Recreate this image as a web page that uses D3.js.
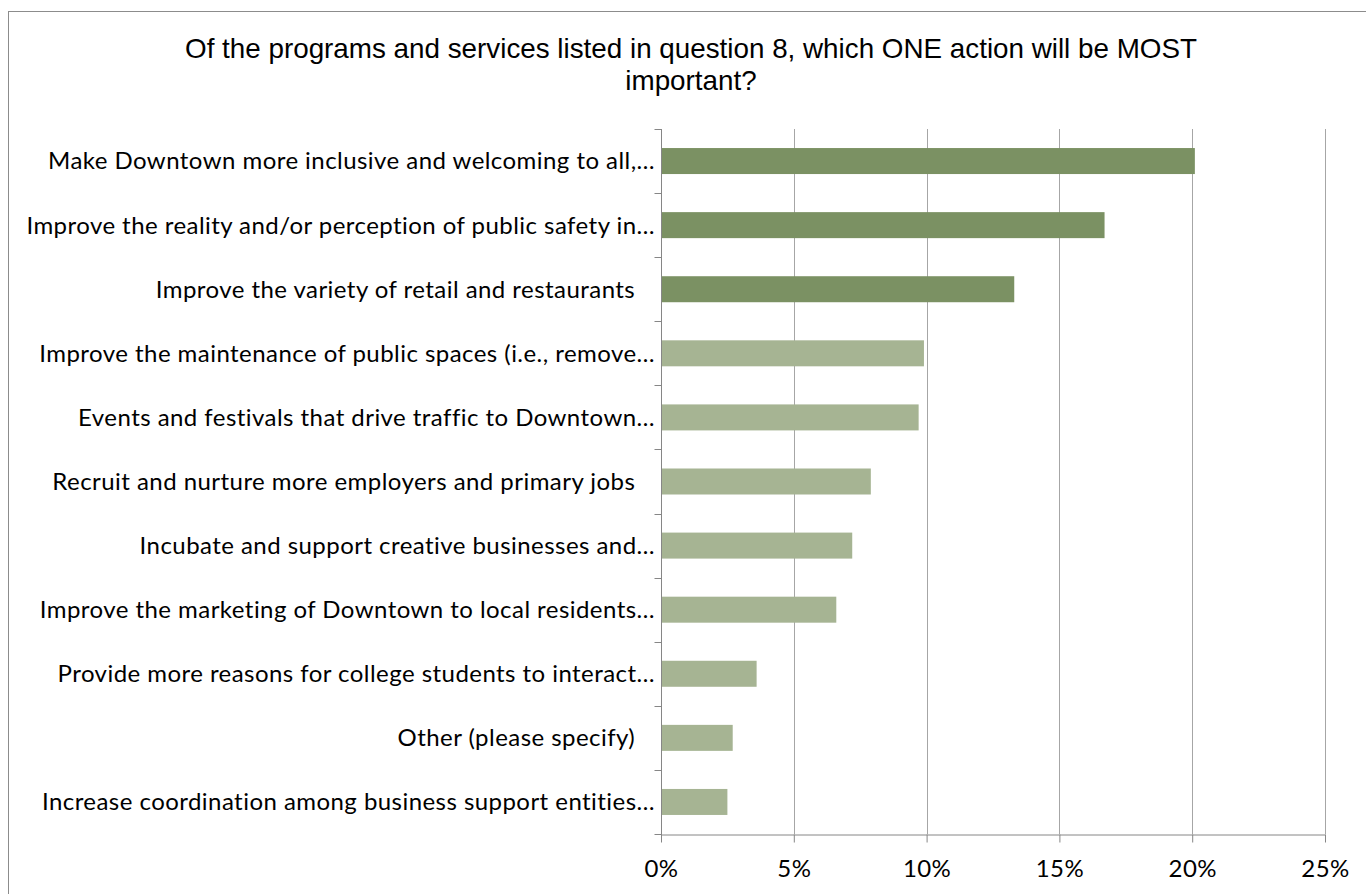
<!DOCTYPE html>
<html>
<head>
<meta charset="utf-8">
<script src="https://cdn.jsdelivr.net/npm/d3@7"></script>
<style>
  html, body { margin: 0; padding: 0; background: #fff; }
  svg { display: block; }
  .cat text { white-space: pre; }
</style>
</head>
<body>
<svg id="chart" width="1366" height="894"></svg>
<script>
const titleLines = [
  "Of the programs and services listed in question 8, which ONE action will be MOST",
  "important?"
];
const categories = [
  "Make Downtown more inclusive and welcoming to all,…",
  "Improve the reality and/or perception of public safety in…",
  "Improve the variety of retail and restaurants   ",
  "Improve the maintenance of public spaces (i.e., remove…",
  "Events and festivals that drive traffic to Downtown…",
  "Recruit and nurture more employers and primary jobs   ",
  "Incubate and support creative businesses and…",
  "Improve the marketing of Downtown to local residents…",
  "Provide more reasons for college students to interact…",
  "Other (please specify)   ",
  "Increase coordination among business support entities…"
];
const values = [0.201, 0.167, 0.133, 0.099, 0.097, 0.079, 0.072, 0.066, 0.036, 0.027, 0.025];
const highlighted = [true, true, true, false, false, false, false, false, false, false, false];
const xTicks = [0, 0.05, 0.10, 0.15, 0.20, 0.25];

const svg = d3.select("#chart");
const m = { left: 661, right: 1325, top: 129, bottom: 834 };
const labelFont = "Lato, 'Open Sans', sans-serif";

// frame
svg.append("rect")
  .attr("x", 8.5).attr("y", 11.5)
  .attr("width", 1366).attr("height", 900)
  .attr("fill", "#fff").attr("stroke", "#8c8c8c").attr("stroke-width", 1);

// title
svg.append("g").selectAll("text").data(titleLines).join("text")
  .attr("x", 691).attr("y", (d, i) => 57.5 + i * 32.5)
  .attr("text-anchor", "middle")
  .attr("font-family", "'Liberation Sans', Arial, sans-serif")
  .attr("font-size", 27.8)
  .attr("fill", "#000")
  .text(d => d);

const x = d3.scaleLinear().domain([0, 0.25]).range([m.left, m.right]);
const yb = d3.scaleBand().domain(categories).range([m.top, m.bottom]);
const barH = 26;

// gridlines
svg.append("g").selectAll("line").data(xTicks.slice(1)).join("line")
  .attr("x1", d => Math.round(x(d)) + 0.5).attr("x2", d => Math.round(x(d)) + 0.5)
  .attr("y1", m.top).attr("y2", m.bottom)
  .attr("stroke", "#a6a6a6").attr("stroke-width", 1);

// bars
svg.append("g").selectAll("rect").data(values).join("rect")
  .attr("x", x(0))
  .attr("y", (d, i) => yb(categories[i]) + yb.bandwidth() / 2 - barH / 2)
  .attr("width", d => x(d) - x(0))
  .attr("height", barH)
  .attr("fill", (d, i) => highlighted[i] ? "#7b9163" : "#a6b493");

// x axis
const xAxis = svg.append("g").attr("transform", `translate(0,${m.bottom + 0.5})`)
  .call(d3.axisBottom(x).tickValues(xTicks).tickFormat(d3.format(".0%")).tickSize(8).tickSizeOuter(0));
xAxis.select(".domain").attr("stroke", "#868686");
xAxis.selectAll(".tick line").attr("stroke", "#868686");
xAxis.selectAll(".tick text")
  .attr("font-family", labelFont).attr("font-size", 24).attr("fill", "#000")
  .attr("letter-spacing", 0.4)
  .attr("y", 42).attr("dy", 0);

// y axis with ticks at band boundaries
const yAxisG = svg.append("g").attr("transform", `translate(${m.left + 0.5},0)`);
yAxisG.append("line").attr("x1", 0).attr("x2", 0).attr("y1", m.top).attr("y2", m.bottom + 8)
  .attr("stroke", "#868686");
const bounds = categories.map(c => yb(c)).concat([m.bottom]);
yAxisG.selectAll("line.b").data(bounds).join("line").attr("class", "b")
  .attr("x1", -7).attr("x2", 0)
  .attr("y1", d => Math.round(d) + 0.5).attr("y2", d => Math.round(d) + 0.5)
  .attr("stroke", "#868686");

svg.append("g").attr("class", "cat").selectAll("text").data(categories).join("text")
  .attr("x", 655)
  .attr("y", d => yb(d) + yb.bandwidth() / 2)
  .attr("dy", "0.35em")
  .attr("text-anchor", "end")
  .attr("font-family", labelFont)
  .attr("font-size", 24)
  .attr("letter-spacing", 0.45)
  .attr("fill", "#000")
  .text(d => d);
</script>
</body>
</html>
